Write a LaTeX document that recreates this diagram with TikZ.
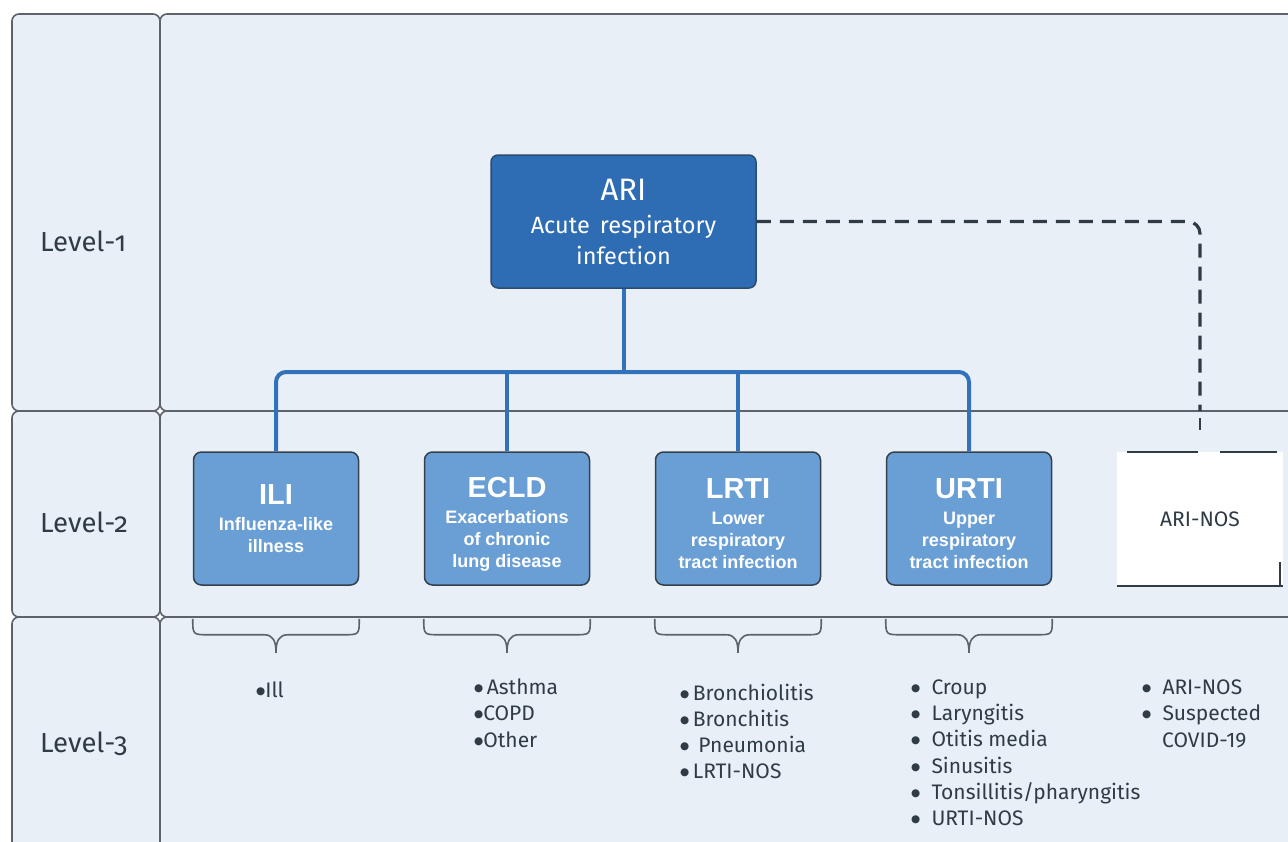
\documentclass[tikz,border=0pt]{standalone}
\usepackage{fontspec}
\setmainfont{Fira Sans}
\newfontfamily\boxfont{Liberation Sans}
\newfontfamily\levfont{Fira Sans}[Numbers=OldStyle]
\newfontfamily\bulfont{DejaVu Sans}
\usetikzlibrary{calc}
\definecolor{bg}{HTML}{E9EFF7}
\definecolor{framec}{HTML}{5C636B}
\definecolor{aridark}{HTML}{2E6DB4}
\definecolor{ariborder}{HTML}{2B4C70}
\definecolor{lvltwo}{HTML}{6A9FD5}
\definecolor{lvltwoborder}{HTML}{34404C}
\definecolor{connc}{HTML}{3272BB}
\definecolor{ink}{HTML}{2F3B45}
\newcommand\bul{\raisebox{2.8pt}{\bulfont\fontsize{10.5}{10.5}\selectfont ●}}
\tikzset{
  cell/.style={fill=bg, draw=framec, line width=1.6pt, rounded corners=7pt},
  aribox/.style={fill=aridark, draw=ariborder, line width=1.5pt, rounded corners=7pt,
    minimum width=265pt, minimum height=133pt, text=white, align=center, inner sep=0pt,
    font=\fontsize{23.5}{31}\selectfont},
  ltwobox/.style={fill=lvltwo, draw=lvltwoborder, line width=1.5pt, rounded corners=8pt,
    minimum width=165pt, minimum height=133pt, text=white, align=center, inner sep=0pt,
    font=\boxfont\bfseries\fontsize{18}{22}\selectfont},
  nosbox/.style={fill=white, minimum width=166pt, minimum height=134pt, inner sep=0pt,
    text=ink, font=\fontsize{21}{24}\selectfont},
  nosline/.style={draw=ink, line width=1.5pt},
  conn/.style={draw=connc, line width=4pt},
  dashline/.style={draw=ink, line width=3.2pt, dash pattern=on 14pt off 9pt},
  bracestyle/.style={draw=framec, line width=1.6pt},
  levlabel/.style={text=ink, anchor=base west, inner sep=0pt, font=\levfont\fontsize{27.5}{30}\selectfont},
  listitem/.style={text=ink, anchor=base west, inner sep=0pt, font=\fontsize{21}{26}\selectfont},
}
\newcommand\lvbrace[1]{%
  \draw[bracestyle] ($(#1.south west)+(0,33)$) .. controls ($(#1.south west)+(0,49)$) .. ($(#1.south west)+(16,49)$)
    -- ($(#1.south)+(-12,49)$) .. controls ($(#1.south)+(-3,49)$) and ($(#1.south)+(0,55)$) .. ($(#1.south)+(0,67)$)
    .. controls ($(#1.south)+(0,55)$) and ($(#1.south)+(3,49)$) .. ($(#1.south)+(12,49)$)
    -- ($(#1.south east)+(-16,49)$) .. controls ($(#1.south east)+(0,49)$) .. ($(#1.south east)+(0,33)$);}
\begin{document}
\begin{tikzpicture}[x=1pt,y=-1pt]
\useasboundingbox (0,0) rectangle (1288,841);
\clip (0,0) rectangle (1288,841);
\fill[white] (0,0) rectangle (1288,841);
% grid cells
\foreach \ya/\yb in {14/411, 411/617, 617/880} {
  \draw[cell] (12,\ya) rectangle (160,\yb);
  \draw[cell] (160,\ya) rectangle (1330,\yb);
}
% level labels
\node[levlabel] (lv1) at (40,251) {Level-1};
\node[levlabel] (lv2) at (40,532) {Level-2};
\node[levlabel] (lv3) at (40,752) {Level-3};
% level 1
\node[aribox] (ARI) at (623.5,221.5) {{\fontsize{31}{31}\selectfont ARI}\\[2pt]Acute\ \,respiratory\\infection};
% level 2
\node[ltwobox] (ILI) at (276,518.5) {{\fontsize{29}{29}\selectfont ILI}\\[4pt]Influenza-like\\illness};
\node[ltwobox] (ECLD) at (507,518.5) {{\fontsize{29}{29}\selectfont\rule{0pt}{31pt}ECLD}\\[4pt]Exacerbations\\of chronic\\lung disease};
\node[ltwobox] (LRTI) at (738,518.5) {{\fontsize{29}{29}\selectfont\rule{0pt}{30pt}LRTI}\\[4pt]Lower\\respiratory\\tract infection};
\node[ltwobox] (URTI) at (969,518.5) {{\fontsize{29}{29}\selectfont\rule{0pt}{30pt}URTI}\\[4pt]Upper\\respiratory\\tract infection};
\node[nosbox] (NOS) at (1200,519) {ARI-NOS};
\draw[nosline] ($(NOS.north west)+(10,0)$) -- ($(NOS.north)+(-2,0)$);
\draw[nosline] ($(NOS.north)+(20,0)$) -- ($(NOS.north east)+(-6,0)$);
\draw[nosline] (NOS.south west) -- (NOS.south east);
\draw[nosline] ($(NOS.south east)+(-3,0)$) -- ($(NOS.south east)+(-3,-24)$);
% connectors
\coordinate (bus) at (0,372);
\draw[conn] (ARI.south) -- (ARI.south |- bus);
\draw[conn, rounded corners=10pt] (ILI.north) -- (ILI.north |- bus) -- (URTI.north |- bus) -- (URTI.north);
\draw[conn, rounded corners=8pt] (ECLD.north) -- (ECLD.north |- bus);
\draw[conn, rounded corners=8pt] (LRTI.north) -- (LRTI.north |- bus);
\coordinate (dashend) at (1200,411);
\draw[dashline, rounded corners=12pt] (ARI.east) -| (dashend);
\coordinate (tickA) at (1200,418);
\coordinate (tickB) at (1200,430);
\draw[nosline] (tickA) -- (tickB);
% braces
\lvbrace{ILI}
\lvbrace{ECLD}
\lvbrace{LRTI}
\lvbrace{URTI}
% level 3 lists
\node[listitem] (ili1) at (256,697) {\bul Ill};
\node[listitem] (ecld1) at (474,694) {\bul\,Asthma};
\node[listitem] (ecld2) at (474,720) {\bul COPD};
\node[listitem] (ecld3) at (474,747) {\bul Other};
\node[listitem] (lrti1) at (680,700) {\bul\,Bronchiolitis};
\node[listitem] (lrti2) at (680,726) {\bul\,Bronchitis};
\node[listitem] (lrti3) at (680,752) {\bul\ \,Pneumonia};
\node[listitem] (lrti4) at (680,778) {\bul\,LRTI-NOS};
\node[listitem] (urti1) at (911,694) {\bul\ \ Croup};
\node[listitem] (urti2) at (911,720) {\bul\ \ Laryngitis};
\node[listitem] (urti3) at (911,746) {\bul\ \ Otitis media};
\node[listitem] (urti4) at (911,773) {\bul\ \ Sinusitis};
\node[listitem] (urti5) at (911,799) {\bul\ \ Tonsillitis/pharyngitis};
\node[listitem] (urti6) at (911,825) {\bul\ \ URTI-NOS};
\node[listitem] (nos1) at (1142,694) {\bul\ \ ARI-NOS};
\node[listitem] (nos2) at (1142,720) {\bul\ \ Suspected};
\node[listitem] (nos3) at (1162,747) {COVID-19};
\end{tikzpicture}
\end{document}
